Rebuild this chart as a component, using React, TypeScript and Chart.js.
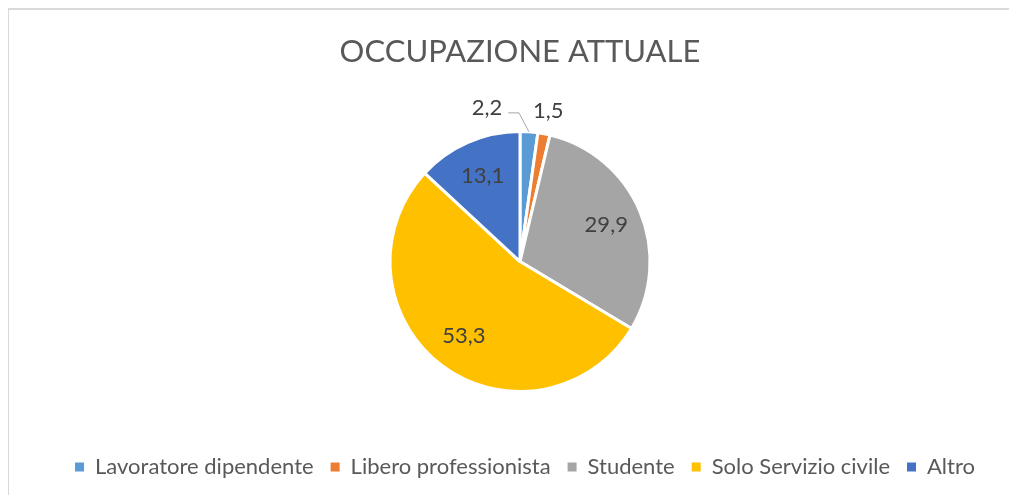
import React, { useEffect, useRef } from "react";
import { Chart, registerables } from "chart.js";

Chart.register(...registerables);

const titleText = "OCCUPAZIONE ATTUALE";
const categories = [
  "Lavoratore dipendente",
  "Libero professionista",
  "Studente",
  "Solo Servizio civile",
  "Altro",
];
const values = [2.2, 1.5, 29.9, 53.3, 13.1];
const colors = ["#5B9BD5", "#ED7D31", "#A5A5A5", "#FFC000", "#4472C4"];

const FONT = "Lato";
const fmt = (v: number) => v.toFixed(1).replace(".", ",");

const legendShift = {
  id: "legendShift",
  afterLayout(chart: any) {
    if (chart.legend) {
      chart.legend.left += 5;
      chart.legend.right += 5;
    }
  },
};

const labelPlugin = {
  id: "sliceLabels",
  afterDatasetsDraw(chart: any) {
    const ctx = chart.ctx as CanvasRenderingContext2D;
    const meta = chart.getDatasetMeta(0);
    const total = values.reduce((a, b) => a + b, 0);
    ctx.save();
    ctx.font = `22px ${FONT}`;
    ctx.fillStyle = "#404040";
    ctx.textAlign = "center";
    ctx.textBaseline = "middle";
    meta.data.forEach((arc: any, i: number) => {
      const { x, y, startAngle, endAngle, outerRadius } = arc.getProps(
        ["x", "y", "startAngle", "endAngle", "outerRadius"],
        true
      );
      const mid = (startAngle + endAngle) / 2;
      const text = fmt(values[i]);
      const frac = values[i] / total;
      if (frac > 0.05) {
        const r = outerRadius * 0.72;
        ctx.fillText(text, x + Math.cos(mid) * r, y + Math.sin(mid) * r);
      } else {
        const ax = x + Math.cos(mid) * outerRadius;
        const ay = y + Math.sin(mid) * outerRadius;
        if (i === 0) {
          // label moved aside to avoid its neighbour, with a leader line
          const lx = ax - 42;
          const ly = ay - 24;
          const w = ctx.measureText(text).width;
          ctx.fillText(text, lx, ly);
          ctx.beginPath();
          ctx.strokeStyle = "#A6A6A6";
          ctx.lineWidth = 1;
          ctx.moveTo(lx + w / 2 + 6, ly + 5);
          ctx.lineTo(ax - 10, ly + 5);
          ctx.lineTo(ax, ay);
          ctx.stroke();
        } else {
          const r = outerRadius + 23;
          ctx.fillText(text, x + Math.cos(mid) * r, y + Math.sin(mid) * r);
        }
      }
    });
    ctx.restore();
  },
};

export default function App() {
  const ref = useRef<HTMLCanvasElement>(null);
  useEffect(() => {
    const chart = new Chart(ref.current!, {
      type: "pie",
      data: {
        labels: categories,
        datasets: [
          {
            data: values,
            backgroundColor: colors,
            borderColor: "#ffffff",
            borderWidth: 3,
            radius: 130,
          } as any,
        ],
      },
      options: {
        responsive: false,
        animation: false,
        devicePixelRatio: 1,
        layout: { padding: { bottom: 7 } },
        plugins: {
          title: {
            display: true,
            text: titleText,
            color: "#595959",
            font: { family: FONT, size: 31, weight: "normal" },
            padding: { top: 23.4, bottom: 13.5 },
          },
          legend: {
            position: "bottom",
            labels: {
              boxWidth: 9,
              boxHeight: 9,
              padding: 17,
              color: "#595959",
              font: { family: FONT, size: 22 },
              generateLabels: (c: any) =>
                (Chart as any).overrides.pie.plugins.legend.labels
                  .generateLabels(c)
                  .map((l: any) => ({ ...l, lineWidth: 0, strokeStyle: l.fillStyle })),
            },
          },
          tooltip: { enabled: false },
        },
      } as any,
      plugins: [legendShift, labelPlugin],
    });
    return () => chart.destroy();
  }, []);
  return (
    <div
      style={{
        marginLeft: -1,
        width: 1010,
        height: 487,
        overflow: "hidden",
        borderTop: "2px solid #d9d9d9",
        borderLeft: "2px solid #d9d9d9",
        boxSizing: "border-box",
        background: "#fff",
      }}
    >
      <canvas ref={ref} width={1022} height={485} style={{ display: "block" }} />
    </div>
  );
}
